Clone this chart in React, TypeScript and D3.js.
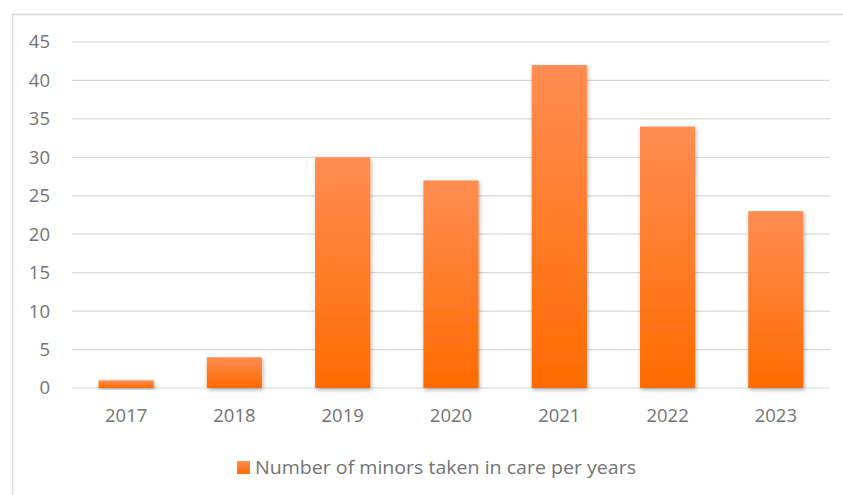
import React from "react";
import * as d3 from "d3";

const categories = ["2017", "2018", "2019", "2020", "2021", "2022", "2023"];
const values = [1, 4, 30, 27, 42, 34, 23];
const yTicks = [0, 5, 10, 15, 20, 25, 30, 35, 40, 45];
const seriesName = "Number of minors taken in care per years";

export default function App() {
  const W = 843, H = 495;
  const left = 72, right = 830, top = 42, bottom = 388;
  const x = d3.scaleBand<string>().domain(categories).range([left, right]).paddingInner(0.49).paddingOuter(0.245);
  const y = d3.scaleLinear().domain([0, 45]).range([bottom, top]);
  const font = "'Open Sans', sans-serif";
  const textColor = "#737373";
  return (
    <svg width={W} height={H} style={{ position: "absolute", left: 0, top: 0 }} fontFamily={font}>
      <defs>
        <linearGradient id="barGrad" x1="0" y1="0" x2="0" y2="1">
          <stop offset="0%" stopColor="#FF8D52" />
          <stop offset="100%" stopColor="#FF6B00" />
        </linearGradient>
        <filter id="shadow" x="-20%" y="-20%" width="140%" height="140%">
          <feDropShadow dx="1" dy="2" stdDeviation="2" floodColor="#000" floodOpacity="0.3" />
        </filter>
      </defs>
      <rect x={0} y={0} width={W} height={H} fill="#fff" />
      <rect x={12.5} y={14.5} width={W + 10} height={H + 10} fill="none" stroke="#d9d9d9" strokeWidth={1.5} />
      {yTicks.map((t) => (
        <g key={t}>
          <line x1={left} x2={right} y1={y(t)} y2={y(t)} stroke="#d9d9d9" strokeWidth={1.2} />
          <text x={50} y={y(t)} dy="0.35em" textAnchor="end" fontSize={18.5} fill={textColor}>{t}</text>
        </g>
      ))}
      {categories.map((c, i) => (
        <g key={c}>
          <rect x={x(c)} y={y(values[i])} width={x.bandwidth()} height={y(0) - y(values[i])} fill="url(#barGrad)" filter="url(#shadow)" />
          <text x={(x(c) as number) + x.bandwidth() / 2} y={422} textAnchor="middle" fontSize={18.5} fill={textColor}>{c}</text>
        </g>
      ))}
      <rect x={237} y={461} width={13} height={13} fill="url(#barGrad)" />
      <text x={255} y={474} fontSize={18.5} fill={textColor} textLength={381} lengthAdjust="spacingAndGlyphs">{seriesName}</text>
    </svg>
  );
}
